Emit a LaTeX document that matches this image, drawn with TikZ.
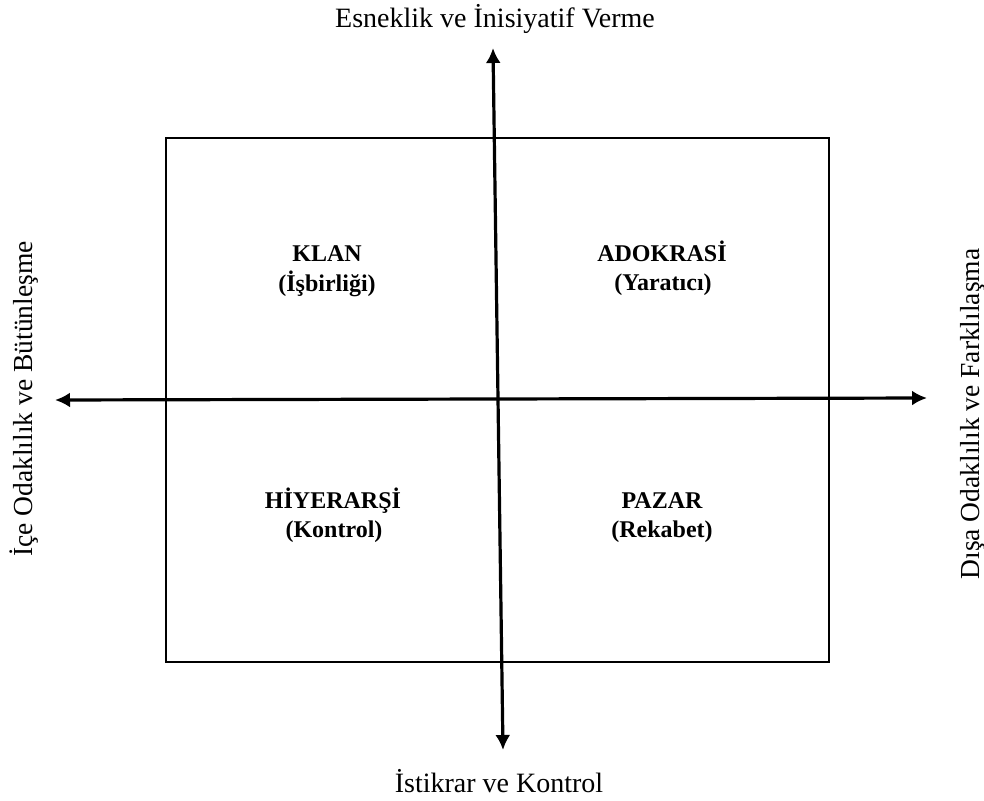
\documentclass[tikz,border=0pt]{standalone}
\usepackage{fontspec}
\setmainfont{Liberation Serif}
\usetikzlibrary{arrows.meta}
\begin{document}
\begin{tikzpicture}[x=1pt,y=-1pt,
  axis/.style={line width=3.2pt,{Latex[length=15pt,width=15pt]}-{Latex[length=15pt,width=15pt]}},
  frame/.style={draw,line width=2pt},
  quad/.style={font=\fontsize{24}{30}\selectfont\bfseries,anchor=base,inner sep=0pt},
  axlabel/.style={font=\fontsize{28}{30}\selectfont,anchor=base,inner sep=0pt},
  sidelabel/.style={font=\fontsize{27.5}{30}\selectfont,anchor=base,inner sep=0pt,rotate=90}]
\useasboundingbox (0,0) rectangle (984,800);
% quadrant frame
\draw[frame] (166,138) rectangle (829,662);
% axes
\coordinate (top) at (493,48);
\coordinate (bottom) at (503,750);
\coordinate (left) at (55,400);
\coordinate (right) at (927,398);
\draw[axis] (bottom) -- (top);
\draw[axis] (left) -- (right);
% axis labels
\node[axlabel] (tl) at (495,28) {Esneklik ve İnisiyatif Verme};
\node[axlabel] (bl) at (499,792) {İstikrar ve Kontrol};
\node[sidelabel] (ll) at (32,399) {İçe Odaklılık ve Bütünleşme};
\node[sidelabel] (rl) at (979,414) {Dışa Odaklılık ve Farklılaşma};
% quadrant labels
\node[quad] (klan) at (327,261) {KLAN};
\node[quad] (klans) at (327,291) {(İşbirliği)};
\node[quad] (adh) at (662,261) {ADOKRASİ};
\node[quad] (adhs) at (663,290) {(Yaratıcı)};
\node[quad] (hier) at (333,508) {HİYERARŞİ};
\node[quad] (hiers) at (334,537) {(Kontrol)};
\node[quad] (pazar) at (662,508) {PAZAR};
\node[quad] (pazars) at (662,537) {(Rekabet)};
\end{tikzpicture}
\end{document}
